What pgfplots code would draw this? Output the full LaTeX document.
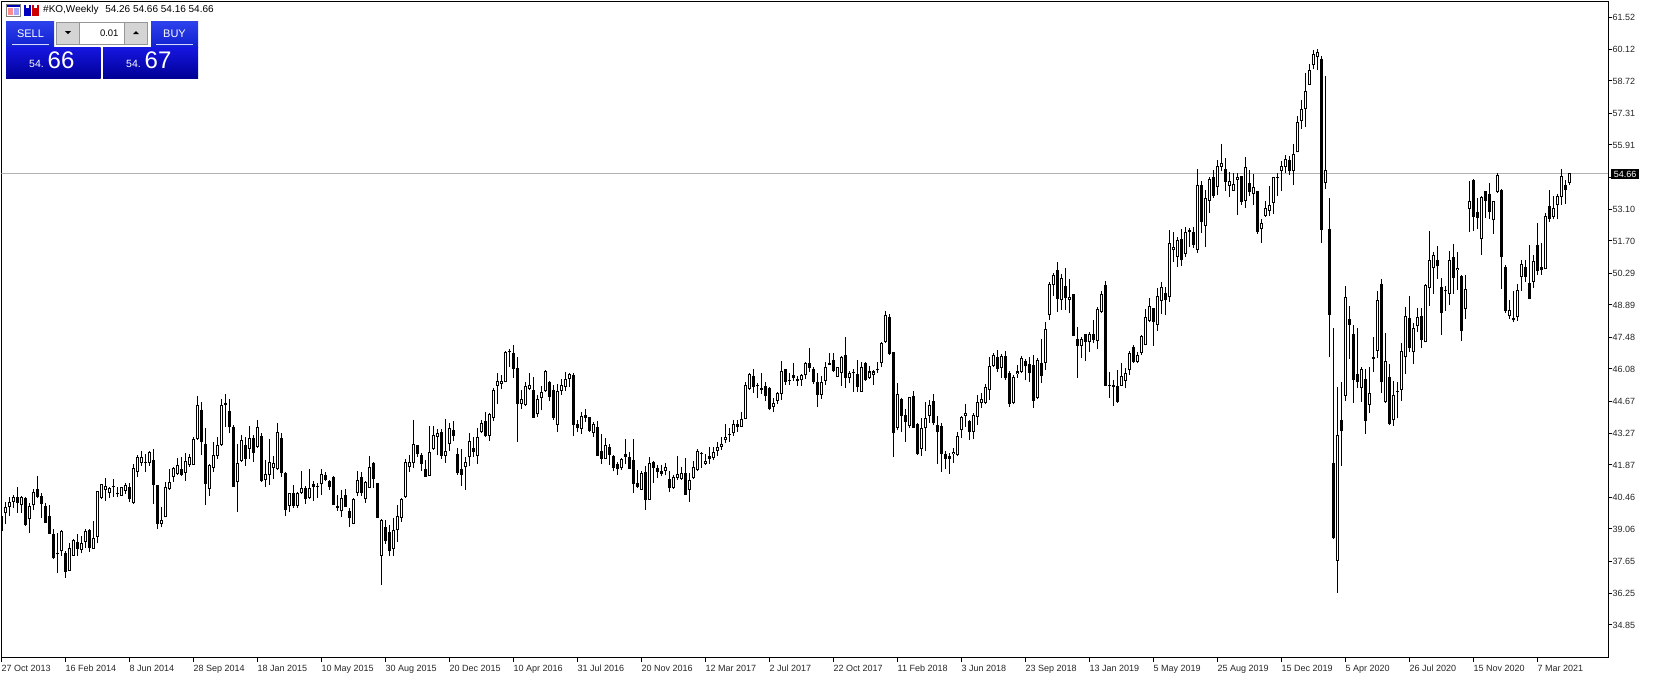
\documentclass[border=0pt]{standalone}
\usepackage{fontspec}
\setmainfont{Liberation Sans}
\usepackage{pgfplots}
\usepackage{pgfplotstable}
\pgfplotsset{compat=1.18}
\pgfplotstableread{
i o h l c
0 39.63 39.63 38.99 38.99
1 39.75 40.26 39.28 40.04
2 40.04 40.48 39.63 40.23
3 40.26 40.55 39.97 40.45
4 40.48 40.89 39.78 40.19
5 40.10 40.51 39.78 40.45
6 40.41 40.48 39.21 39.24
7 39.48 40.22 38.90 40.07
8 40.10 40.82 39.89 40.67
9 40.80 41.39 40.41 40.48
10 40.51 40.63 39.56 40.16
11 40.07 40.19 39.34 39.34
12 39.63 40.11 38.86 38.86
13 38.84 39.05 37.76 37.80
14 38.01 38.87 37.14 37.95
15 38.08 39.02 37.88 38.97
16 38.01 38.08 36.92 37.19
17 37.23 38.43 37.23 38.21
18 37.89 38.61 37.89 38.56
19 38.48 38.84 37.89 38.20
20 38.15 38.75 37.99 38.43
21 38.48 39.06 38.24 38.97
22 39.02 39.05 38.07 38.24
23 38.20 39.41 38.20 38.65
24 38.69 40.71 38.43 40.71
25 40.44 41.05 40.39 41.02
26 40.79 41.30 40.30 40.93
27 40.65 40.92 40.41 40.85
28 40.89 41.25 40.48 40.89
29 40.58 40.92 40.45 40.58
30 40.52 40.92 40.49 40.89
31 40.74 41.09 40.60 40.98
32 40.89 41.09 40.26 40.38
33 40.20 41.91 40.16 41.74
34 41.55 42.29 41.34 42.21
35 41.97 42.48 41.83 42.21
36 41.99 42.35 41.58 41.94
37 41.97 42.50 41.84 42.43
38 42.09 42.56 40.16 41.01
39 40.98 40.98 39.06 39.29
40 39.29 40.04 39.13 39.44
41 39.57 41.14 39.57 40.90
42 40.80 41.68 40.77 41.12
43 41.33 41.77 41.14 41.72
44 41.49 42.16 41.43 41.85
45 41.69 42.24 41.39 41.43
46 41.53 42.41 41.17 42.03
47 41.88 42.35 41.77 42.21
48 41.88 43.11 41.88 43.01
49 43.00 44.90 42.97 44.49
50 44.27 44.62 42.32 42.89
51 42.79 43.48 40.11 41.05
52 40.80 41.90 40.51 41.87
53 41.75 42.89 41.58 42.29
54 42.26 43.11 42.15 42.75
55 42.76 44.77 42.72 44.49
56 44.59 44.99 43.55 44.50
57 44.22 44.75 43.26 43.52
58 43.54 43.62 40.92 40.92
59 41.11 42.78 39.82 41.94
60 42.06 43.19 42.02 42.95
61 42.75 43.08 41.83 42.15
62 42.59 43.58 42.15 43.04
63 43.04 43.19 42.00 42.41
64 42.66 43.84 42.63 43.52
65 43.14 43.26 41.12 41.18
66 41.23 42.09 40.92 41.46
67 41.42 43.00 40.99 41.99
68 41.75 42.28 41.25 41.96
69 41.68 43.70 41.65 43.30
70 43.05 43.25 41.35 41.53
71 41.51 41.54 39.64 39.90
72 40.08 40.65 39.81 40.62
73 40.66 40.99 39.99 40.06
74 40.08 40.69 39.99 40.66
75 40.65 41.60 40.61 40.88
76 40.88 40.94 40.17 40.36
77 40.43 41.67 40.39 40.88
78 41.02 41.18 40.30 40.91
79 40.90 41.06 40.44 40.90
80 41.02 41.67 40.55 41.48
81 41.44 41.57 41.18 41.23
82 41.15 41.23 40.78 40.91
83 41.32 41.38 40.12 40.12
84 40.09 40.55 39.86 39.99
85 39.83 40.77 39.60 40.40
86 40.53 40.81 40.04 40.04
87 39.83 39.96 39.16 39.52
88 39.29 40.40 39.26 40.36
89 40.66 41.60 40.52 41.23
90 41.32 41.57 40.52 40.65
91 40.36 41.15 40.20 41.10
92 40.87 42.26 40.84 41.76
93 41.95 42.01 40.87 41.26
94 41.06 41.06 39.55 39.55
95 37.88 39.48 36.60 39.45
96 39.14 39.45 38.40 38.54
97 38.91 39.23 37.88 38.10
98 38.16 39.54 37.88 39.00
99 39.00 40.11 38.50 39.65
100 39.55 40.44 39.38 40.37
101 40.47 42.11 40.44 41.98
102 41.79 42.30 41.57 41.98
103 41.94 43.84 41.75 42.77
104 42.73 42.76 42.23 42.36
105 42.30 42.40 41.61 41.92
106 41.67 42.08 41.35 41.35
107 41.39 43.58 41.39 42.42
108 42.55 43.58 42.52 43.17
109 43.11 43.43 42.30 43.25
110 43.30 43.43 42.14 42.27
111 42.27 43.88 41.97 42.46
112 42.80 43.69 42.49 43.50
113 43.39 43.79 42.90 43.14
114 42.33 42.60 41.42 41.53
115 41.67 42.55 40.94 41.44
116 41.79 42.20 40.77 42.02
117 42.20 43.25 41.82 42.90
118 42.61 43.11 42.23 42.45
119 42.27 43.49 41.91 43.08
120 43.30 43.84 43.25 43.72
121 43.79 44.20 43.11 43.14
122 43.15 44.16 42.92 44.10
123 43.94 45.23 43.79 45.18
124 45.35 45.92 44.54 45.57
125 45.43 45.81 45.20 45.57
126 45.49 46.85 45.49 46.81
127 46.85 46.94 46.18 46.81
128 46.76 47.13 45.70 46.09
129 46.11 46.59 42.89 44.56
130 44.56 45.18 44.31 44.78
131 44.48 45.49 44.47 45.32
132 45.21 45.89 45.18 45.36
133 45.14 45.73 43.94 43.94
134 44.09 44.94 43.98 44.78
135 44.82 45.35 44.28 45.05
136 45.10 46.03 45.08 45.99
137 45.49 45.57 44.69 44.83
138 45.14 45.37 43.84 43.94
139 43.63 45.40 43.30 45.10
140 45.13 45.65 44.95 45.36
141 45.30 45.95 45.13 45.62
142 45.65 45.89 45.30 45.84
143 45.82 45.89 43.14 43.63
144 43.65 43.84 43.30 43.50
145 43.46 44.18 43.23 44.00
146 44.04 44.31 43.77 43.94
147 43.96 43.99 43.31 43.36
148 43.28 43.77 43.11 43.65
149 43.53 43.80 42.27 42.27
150 42.46 43.23 41.91 42.14
151 42.13 43.04 42.11 42.73
152 42.66 42.79 41.87 42.32
153 42.26 42.30 41.59 41.75
154 41.91 42.01 41.44 41.67
155 41.72 42.19 41.65 42.13
156 42.33 43.01 41.89 42.22
157 42.22 42.44 41.69 41.70
158 42.07 43.01 40.65 41.05
159 41.06 41.65 40.87 40.90
160 40.78 41.60 40.77 41.50
161 41.54 41.82 39.89 40.33
162 40.34 42.22 40.33 41.94
163 42.00 42.04 41.09 41.75
164 41.72 41.87 41.29 41.57
165 41.59 41.87 41.38 41.48
166 41.62 41.94 41.41 41.76
167 41.24 41.60 40.68 40.87
168 40.87 41.43 40.83 41.32
169 41.31 42.26 41.21 41.46
170 41.27 41.78 41.22 41.50
171 41.50 42.17 40.56 40.56
172 40.78 41.50 40.26 41.19
173 41.28 42.05 41.27 41.76
174 41.66 42.57 41.60 42.46
175 42.36 42.44 41.75 42.36
176 41.92 42.33 41.87 42.03
177 42.26 42.66 41.92 42.14
178 42.19 42.64 42.08 42.42
179 42.49 42.86 42.27 42.64
180 42.67 43.08 42.52 42.77
181 42.98 43.66 42.83 43.08
182 43.17 43.47 42.89 43.17
183 43.25 43.84 43.15 43.65
184 43.66 43.84 43.33 43.55
185 43.55 44.18 43.52 43.87
186 43.90 45.52 43.90 45.36
187 45.22 45.89 45.16 45.86
188 45.76 46.08 45.04 45.30
189 45.32 45.45 44.82 45.32
190 45.23 45.92 44.98 45.16
191 45.33 45.51 44.69 44.91
192 45.23 45.27 44.28 44.34
193 44.43 44.79 44.19 44.60
194 44.69 45.08 44.56 45.02
195 44.99 46.42 44.72 45.98
196 46.06 46.08 45.38 45.52
197 45.57 45.89 45.38 45.57
198 45.80 46.34 45.57 45.68
199 45.64 45.77 45.35 45.57
200 45.61 45.86 45.35 45.80
201 45.80 46.39 45.65 46.34
202 46.33 46.99 45.96 46.14
203 46.06 46.18 45.40 45.52
204 45.49 45.92 44.41 44.95
205 44.95 45.77 44.76 45.49
206 45.57 46.37 45.39 46.17
207 46.34 46.77 46.25 46.27
208 46.46 46.77 45.96 45.99
209 45.74 46.18 45.74 46.15
210 45.92 46.65 45.33 46.60
211 46.68 47.47 45.26 45.70
212 45.70 46.00 45.45 45.89
213 45.89 46.06 45.08 45.89
214 45.84 46.47 45.08 45.30
215 45.08 46.40 45.08 46.15
216 46.33 46.37 45.57 45.58
217 45.70 46.21 45.65 45.97
218 45.80 46.03 45.37 45.97
219 46.06 46.38 45.92 46.02
220 46.33 47.26 46.15 47.22
221 47.26 48.62 47.23 48.43
222 48.34 48.48 46.69 46.74
223 46.81 46.81 42.23 43.25
224 43.50 45.45 43.40 44.97
225 44.76 44.79 43.33 44.03
226 44.04 44.32 42.89 43.77
227 43.59 44.86 43.50 44.83
228 44.88 45.11 43.50 43.50
229 43.65 43.69 42.30 42.36
230 42.58 43.91 42.27 43.47
231 43.47 44.61 42.49 43.91
232 44.03 44.72 43.72 44.48
233 44.66 44.98 43.63 43.69
234 43.62 44.01 41.91 43.30
235 43.60 43.72 41.57 42.36
236 42.33 42.48 41.69 42.14
237 42.26 42.41 41.48 42.14
238 42.33 42.61 41.97 42.43
239 42.32 43.31 42.27 43.12
240 43.41 44.03 43.05 43.97
241 44.03 44.54 43.55 44.13
242 43.78 43.84 42.96 43.33
243 43.33 44.13 43.00 44.06
244 43.96 44.94 43.62 44.61
245 44.60 45.01 44.37 44.75
246 44.60 45.42 44.54 45.27
247 45.17 46.59 44.72 46.19
248 46.22 46.78 46.18 46.68
249 46.60 46.91 45.96 46.08
250 46.14 46.74 45.68 46.65
251 46.63 46.87 45.59 45.67
252 45.89 45.97 44.42 44.56
253 44.60 45.81 44.54 45.73
254 45.87 46.25 45.67 45.97
255 45.96 46.65 45.89 46.56
256 46.41 46.52 45.59 46.19
257 46.28 46.59 45.49 45.92
258 46.25 46.69 44.38 44.69
259 44.80 46.55 44.76 46.47
260 46.33 47.39 45.48 45.78
261 46.35 48.15 46.03 47.82
262 48.43 49.88 48.23 49.81
263 49.75 50.28 49.28 50.19
264 50.41 50.76 48.59 49.16
265 49.09 50.25 48.67 50.06
266 49.71 50.51 48.67 49.21
267 49.12 50.03 48.52 49.22
268 49.35 49.35 47.54 47.54
269 47.38 47.91 45.70 47.10
270 47.10 47.47 46.55 47.38
271 47.60 47.61 46.43 47.26
272 47.25 47.69 46.82 47.60
273 47.60 48.23 47.20 47.35
274 47.29 48.78 46.97 48.70
275 48.59 49.50 48.55 49.35
276 49.75 49.92 45.35 45.35
277 45.32 45.93 44.82 45.32
278 45.36 45.59 44.47 45.30
279 45.33 46.05 44.60 44.64
280 45.35 46.33 45.33 45.77
281 45.57 46.11 45.23 45.91
282 46.05 46.89 45.83 46.77
283 47.06 47.13 46.33 46.40
284 46.39 46.84 46.33 46.70
285 46.80 47.57 46.70 47.53
286 47.12 48.71 47.12 48.35
287 48.19 49.18 48.13 48.83
288 48.74 48.76 47.09 48.16
289 48.03 49.62 47.75 49.27
290 49.08 49.90 48.49 49.66
291 49.40 49.66 48.45 49.12
292 49.23 52.18 49.02 51.60
293 51.29 52.11 50.78 51.42
294 51.01 51.89 50.56 51.73
295 51.77 52.22 50.61 50.86
296 51.13 52.31 51.01 52.09
297 52.18 52.25 51.45 52.11
298 52.09 52.33 51.38 51.52
299 51.32 54.86 51.17 54.14
300 54.14 54.33 52.06 52.55
301 52.37 53.94 51.45 53.57
302 53.47 54.49 52.91 54.40
303 54.51 54.80 53.59 53.69
304 54.05 55.25 53.70 54.98
305 54.96 55.96 54.76 55.10
306 54.84 55.33 53.89 54.30
307 54.13 54.73 53.63 54.32
308 53.91 54.67 53.89 54.18
309 54.39 54.67 52.84 54.49
310 54.54 54.57 53.28 53.41
311 53.47 55.37 53.15 54.93
312 54.23 54.81 53.69 53.85
313 53.78 54.64 53.28 54.05
314 53.88 53.89 52.01 52.11
315 52.24 52.66 51.61 52.50
316 52.81 53.47 52.75 53.13
317 53.03 54.11 52.81 53.26
318 53.38 54.49 52.88 54.49
319 54.45 54.67 53.67 54.45
320 54.78 55.21 53.89 54.98
321 54.96 55.47 54.67 55.28
322 55.24 55.44 54.59 54.78
323 54.78 55.94 54.16 55.50
324 55.59 57.18 55.59 56.90
325 56.94 57.88 56.62 57.50
326 57.47 59.06 56.71 58.26
327 58.55 59.46 58.55 59.22
328 59.40 60.07 59.24 59.88
329 59.75 60.12 59.19 59.97
330 59.68 59.81 51.62 52.19
331 54.25 58.93 53.97 54.79
332 52.22 53.58 46.62 48.46
333 41.95 47.90 38.61 38.66
334 37.66 45.27 36.26 43.18
335 43.84 45.49 41.83 43.37
336 44.90 49.72 44.68 49.26
337 48.27 48.84 46.53 48.02
338 47.60 48.01 44.60 45.61
339 45.88 47.86 45.25 45.49
340 45.23 46.15 44.64 46.10
341 45.66 46.10 43.24 43.81
342 44.52 46.15 44.16 45.01
343 46.59 47.49 45.96 46.53
344 46.88 49.50 46.56 49.09
345 49.83 50.05 45.03 45.49
346 44.61 47.68 44.60 46.45
347 45.71 46.29 43.62 43.66
348 43.82 45.55 43.59 44.92
349 45.09 45.52 43.91 45.09
350 45.18 47.20 44.68 46.85
351 46.59 48.78 45.86 48.39
352 48.30 49.28 46.81 47.01
353 46.81 48.11 46.32 47.86
354 47.95 48.75 47.71 48.34
355 48.39 48.76 47.01 47.37
356 47.25 49.81 47.25 49.76
357 49.62 52.14 48.86 50.85
358 50.50 51.20 49.38 51.07
359 50.85 51.48 50.04 50.58
360 49.66 50.07 47.58 48.55
361 49.49 49.72 48.64 49.49
362 49.36 51.24 48.89 50.85
363 50.98 51.56 49.38 50.06
364 50.41 51.20 49.53 50.50
365 50.14 50.19 47.32 47.76
366 48.70 50.20 48.29 49.57
367 53.11 54.33 52.11 53.44
368 54.36 54.40 52.15 52.76
369 52.95 53.57 52.24 52.72
370 51.77 53.67 51.10 53.61
371 53.88 53.88 52.70 53.47
372 53.74 54.23 52.68 52.98
373 52.60 53.44 52.02 53.44
374 53.86 54.67 53.82 54.58
375 53.92 53.96 49.60 50.98
376 50.54 50.64 48.55 48.62
377 48.39 49.09 48.29 48.65
378 48.30 49.52 48.16 48.21
379 48.35 49.79 48.20 49.53
380 50.10 50.85 49.52 50.67
381 50.54 50.85 49.91 50.12
382 49.84 51.52 49.14 49.15
383 49.91 51.07 49.65 50.80
384 51.51 52.47 50.22 50.37
385 50.54 51.59 50.22 50.41
386 50.45 52.91 50.45 52.78
387 53.22 53.93 52.52 52.65
388 52.73 53.67 52.65 53.13
389 53.26 53.74 52.66 53.66
390 53.61 54.86 53.29 54.53
391 54.14 54.36 53.33 53.92
392 54.26 54.66 54.16 54.66
}\candles
\definecolor{panelA}{RGB}{46,66,236}
\definecolor{panelB}{RGB}{16,32,208}
\definecolor{priceA}{RGB}{22,22,226}
\definecolor{priceB}{RGB}{0,0,150}
\definecolor{spin}{RGB}{212,212,212}
\definecolor{spinedge}{RGB}{150,150,150}
\begin{document}
\begin{tikzpicture}[x=1pt,y=-1pt]
\useasboundingbox (0,0) rectangle (1656,678);
\begin{axis}[
  at={(1.5pt,-657.5pt)}, anchor=south west,
  scale only axis, width=1607pt, height=656pt,
  xmin=0, xmax=401.75, ymin=33.42, ymax=62.205,
  axis line style={black,line width=1pt},
  tick style={black,line width=1pt},
  tick align=outside, major tick length=4pt,
  xtick pos=bottom, ytick pos=right,
  yticklabel pos=right,
  xtick={0,16,...,384},
  xticklabels={27 Oct 2013,16 Feb 2014,8 Jun 2014,28 Sep 2014,18 Jan 2015,10 May 2015,30 Aug 2015,20 Dec 2015,10 Apr 2016,31 Jul 2016,20 Nov 2016,12 Mar 2017,2 Jul 2017,22 Oct 2017,11 Feb 2018,3 Jun 2018,23 Sep 2018,13 Jan 2019,5 May 2019,25 Aug 2019,15 Dec 2019,5 Apr 2020,26 Jul 2020,15 Nov 2020,7 Mar 2021},
  xticklabel style={anchor=north west,inner xsep=0pt,inner ysep=0pt,yshift=-3pt,text height=7pt,text depth=2pt,font=\fontsize{9}{10}\selectfont,text=black!85},
  ytick={34.85,36.25,37.65,39.06,40.46,41.87,43.27,44.67,46.08,47.48,48.89,50.29,51.70,53.10,54.50,55.91,57.31,58.72,60.12,61.52},
  yticklabels={34.85,36.25,37.65,39.06,40.46,41.87,43.27,44.67,46.08,47.48,48.89,50.29,51.70,53.10,{},55.91,57.31,58.72,60.12,61.52},
  yticklabel style={anchor=west,inner xsep=0pt,xshift=0pt,font=\fontsize{9}{10}\selectfont,text=black!85},
  /pgf/number format/assume math mode=true,
  clip=true,
]
\addplot[color=black!30,line width=1pt,forget plot] coordinates {(0,54.66) (401.75,54.66)};
% wicks
\addplot[no marks,draw=none,forget plot,
  error bars/.cd,y dir=plus,y explicit,error mark=none,
  error bar style={draw=black,line width=1pt,solid}]
  table[x=i,y=l,y error plus expr=\thisrow{h}-\thisrow{l}] {\candles};
% body, outer
\addplot[no marks,draw=none,forget plot,
  error bars/.cd,y dir=plus,y explicit,error mark=none,
  error bar style={draw=black,line width=3pt,solid}]
  table[x=i,y expr={min(\thisrow{o},\thisrow{c})},
        y error plus expr={max(abs(\thisrow{c}-\thisrow{o}),0.044)}] {\candles};
% body, hollow inside of the rising weeks
\addplot[no marks,draw=none,forget plot,
  error bars/.cd,y dir=plus,y explicit,error mark=none,
  error bar style={draw=white,line width=1pt,solid}]
  table[x=i,y expr={\thisrow{o}+0.044},
        y error plus expr={max(\thisrow{c}-\thisrow{o}-0.088,0)}] {\candles};
\end{axis}
% current price label
\fill[black] (1611,169) rectangle (1639,179);
\node[anchor=center,inner sep=0pt,text=white,font=\fontsize{9}{10}\selectfont] at (1625,174) {54.66};
% header
\fill[white,draw=black!50] (6.5,4.5) rectangle (20.5,16.5);
\fill[blue!70!black] (7,5) rectangle (20,7);
\fill[red!45] (8,8) rectangle (13,15);
\fill[blue!35] (14,8) rectangle (19,15);
\fill[blue!75!black] (24,5) rectangle (31,16);
\fill[red!80!black] (32,5) rectangle (39,16);
\fill[white] (26,5) rectangle (29,8);
\fill[white] (34,5) rectangle (37,8);
\node[anchor=west,inner sep=0pt,font=\fontsize{10}{12}\selectfont,text=black] at (43,10) {\#KO,Weekly\hspace{6.7pt}54.26 54.66 54.16 54.66};
% sell / buy panels
\shade[top color=panelA,bottom color=panelB] (6,21) rectangle (54,47);
\shade[top color=panelA,bottom color=panelB] (151,21) rectangle (198,47);
\shade[top color=priceA,bottom color=priceB] (6,47) rectangle (100.7,78);
\shade[top color=priceA,bottom color=priceB] (103,47) rectangle (198,78);
\draw[white!85!blue,line width=0.8pt] (12,44.7) -- (49,44.7);
\draw[white!85!blue,line width=0.8pt] (156,44.7) -- (193,44.7);
\node[text=white,inner sep=0pt,font=\fontsize{11}{12}\selectfont] at (30.5,33.5) {SELL};
\node[text=white,inner sep=0pt,font=\fontsize{11}{12}\selectfont] at (174.5,33.5) {BUY};
\fill[white,draw=spinedge] (56.5,22.5) rectangle (147.5,44.5);
\fill[spin,draw=spinedge] (56.5,22.5) rectangle (79.5,44.5);
\fill[spin,draw=spinedge] (124.5,22.5) rectangle (147.5,44.5);
\fill[black] (65,31) -- (71,31) -- (68,34) -- cycle;
\fill[black] (133,34) -- (139,34) -- (136,31) -- cycle;
\node[anchor=east,inner sep=0pt,font=\fontsize{9.5}{11}\selectfont,text=black] at (118.7,33.5) {0.01};
\node[anchor=base west,inner sep=0pt,text=white,font=\fontsize{10.5}{12}\selectfont] at (29,67) {54.};
\node[anchor=base west,inner sep=0pt,text=white,font=\fontsize{24}{26}\selectfont] at (47.5,68) {66};
\node[anchor=base west,inner sep=0pt,text=white,font=\fontsize{10.5}{12}\selectfont] at (126,67) {54.};
\node[anchor=base west,inner sep=0pt,text=white,font=\fontsize{24}{26}\selectfont] at (144.5,68) {67};
\end{tikzpicture}
\end{document}
